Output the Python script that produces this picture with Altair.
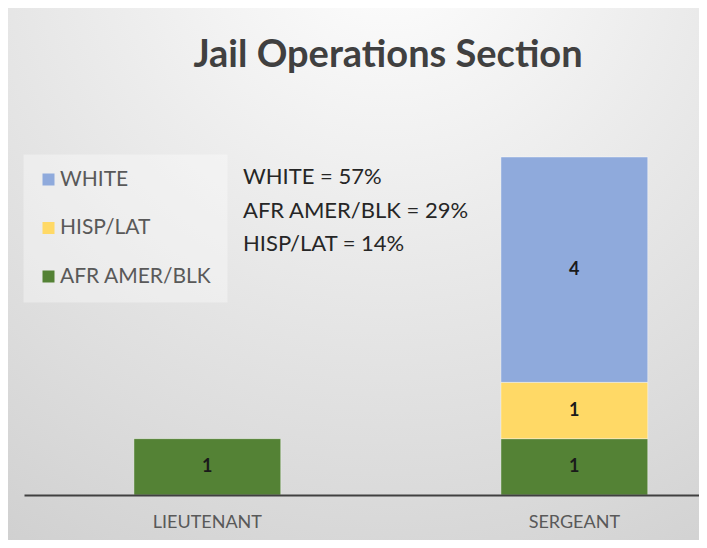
import altair as alt
import pandas as pd

# ---- data ----
ranks = ["LIEUTENANT", "SERGEANT"]
groups = ["AFR AMER/BLK", "HISP/LAT", "WHITE"]          # bottom -> top in the stack
lieutenant = [1, 0, 0]
sergeant = [1, 1, 4]
legend_order = ["WHITE", "HISP/LAT", "AFR AMER/BLK"]
group_colors = ["#8FAADC", "#FFD966", "#548235"]        # matches legend_order
note_lines = ["WHITE = 57%", "AFR AMER/BLK = 29%", "HISP/LAT = 14%"]
title_text = "Jail Operations Section"

rows = []
for rank, vals in zip(ranks, [lieutenant, sergeant]):
    for i, (g, v) in enumerate(zip(groups, vals)):
        if v > 0:
            rows.append({"rank": rank, "group": g, "count": v, "ord": i})
df = pd.DataFrame(rows)

W, H = 675, 338
PAD = {"left": 16, "top": 149, "right": 0, "bottom": 45}

# background panel with soft radial gradient
bg = alt.Chart(alt.Data(values=[{"k": 1}])).mark_rect(
    color=alt.Gradient(
        gradient="radial",
        stops=[
            alt.GradientStop(color="#ffffff", offset=0),
            alt.GradientStop(color="#ececec", offset=0.4),
            alt.GradientStop(color="#dcdcdc", offset=0.75),
            alt.GradientStop(color="#d0d0d0", offset=1),
        ],
        x1=0.55, y1=0.0, r1=0, x2=0.55, y2=0.0, r2=1.05,
    )
).encode(
    x=alt.value(-PAD["left"]), x2=alt.value(W + PAD["right"]),
    y=alt.value(-PAD["top"]), y2=alt.value(H + PAD["bottom"]),
)

title = alt.Chart(alt.Data(values=[{"t": title_text}])).mark_text(
    font="Lato", fontWeight="bold", fontSize=38, color="#404040",
    align="center", baseline="alphabetic",
).encode(text="t:N", x=alt.value(364), y=alt.value(-90))

note = alt.Chart(alt.Data(values=[{"t": "\n".join(note_lines)}])).mark_text(
    font="Lato", fontSize=22, color="#262626", align="left",
    baseline="alphabetic", lineBreak="\n", lineHeight=33.5,
).encode(text="t:N", x=alt.value(219), y=alt.value(27))

base = alt.Chart(df).transform_stack(
    stack="count", groupby=["rank"], sort=[alt.SortField("ord")], as_=["y0", "y1"]
).transform_calculate(mid="(datum.y0 + datum.y1) / 2")

xenc = alt.X(
    "rank:N", sort=ranks,
    scale=alt.Scale(paddingInner=0.6, paddingOuter=0.2196, align=0.682),
    axis=alt.Axis(
        title=None, labelAngle=0, ticks=False, grid=False, zindex=1,
        domainColor="#404040", domainWidth=2,
        labelFont="Lato", labelFontSize=18, labelColor="#595959", labelPadding=18,
    ),
)

bars = base.mark_bar(stroke="#ffffff", strokeWidth=1, strokeOpacity=0.4).encode(
    x=xenc,
    y=alt.Y("y0:Q", scale=alt.Scale(domain=[0, 6]), axis=None),
    y2="y1:Q",
    color=alt.Color(
        "group:N",
        scale=alt.Scale(domain=legend_order, range=group_colors),
        legend=alt.Legend(
            orient="none", legendX=-1, legendY=-3, title=None,
            symbolType="square", symbolSize=144, symbolStrokeWidth=0,
            labelFont="Lato", labelFontSize=21, labelColor="#595959",
            labelOffset=1, rowPadding=26.5, padding=15,
            fillColor="rgba(255,255,255,0.35)", strokeColor="transparent",
        ),
    ),
)

labels = base.mark_text(
    font="Lato", fontWeight="bold", fontSize=18, color="#1a1a1a", baseline="middle"
).encode(
    x=alt.X("rank:N", sort=ranks),
    y=alt.Y("mid:Q", scale=alt.Scale(domain=[0, 6]), axis=None),
    text="count:Q",
)

chart = alt.layer(bg, title, note, bars, labels).properties(
    width=W, height=H, padding=PAD, autosize=alt.AutoSizeParams(type="none"),
    background="white",
).configure_view(stroke=None)

chart.save("out.html", embed_options={"renderer": "svg", "actions": False})
